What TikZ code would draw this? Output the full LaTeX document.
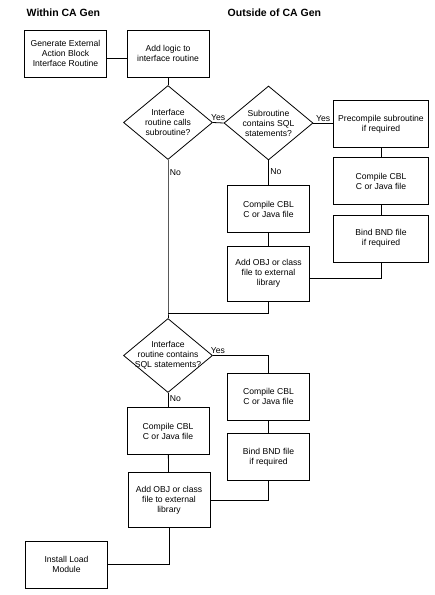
\documentclass[tikz,border=0pt]{standalone}
\usepackage{fontspec}
\setmainfont{Liberation Sans}
\usepackage{tikz}
\usetikzlibrary{shapes}
\usetikzlibrary{positioning}
\usepackage{xcolor}

\begin{document}
\begin{tikzpicture}[x=1pt, y=-1pt, line width=0.8pt,
		main/.style = {draw, rectangle, minimum width=82pt, minimum height=47pt, align=center, inner sep=1pt, font=\fontsize{8.6}{10}\selectfont},
		wide/.style = {main, minimum width=95pt},
		tall/.style = {main, minimum height=55pt},
		dec/.style = {draw, diamond, minimum width=89pt, minimum height=74pt, inner sep=0pt},
		txt/.style = {align=center, inner sep=0pt, font=\fontsize{8.6}{10}\selectfont},
		lbl/.style = {font=\fontsize{8.6}{10}\selectfont, inner sep=1.5pt},
		head/.style = {anchor=west, font=\fontsize{10.5}{12}\selectfont\bfseries}]
		\useasboundingbox (0,0) rectangle (435,595);
		\node[head] (w) at (23,12.5) {Within CA Gen};
		\node[head] (o) at (224,13) {Outside of CA Gen};
		\node[main] (1) at (65.5,53.5) {Generate External\\Action Block\\Interface Routine};
		\node[main] (2) at (168,53.5) {Add logic to\\interface routine};
		\node[dec, label={[txt]center:Interface\\routine calls\\subroutine?}] (3) at (168,122.5) {};
		\node[dec, label={[txt]center:Subroutine\\contains SQL\\statements?}] (4) at (268.5,123) {};
		\node[wide] (5) at (381,124) {Precompile subroutine\\if required};
		\node[wide] (6) at (381,181) {Compile CBL\\C or Java file};
		\node[wide] (7) at (381,238.5) {Bind BND file\\if required};
		\node[main] (8) at (268.5,209) {Compile CBL\\C or Java file};
		\node[tall] (9) at (268.5,273.5) {Add OBJ or class\\file to external\\library};
		\node[dec, label={[txt]center:Interface\\routine contains\\SQL statements?}] (10) at (168,355.5) {};
		\node[main] (11) at (268.5,396.5) {Compile CBL\\C or Java file};
		\node[main] (12) at (268.5,457) {Bind BND file\\if required};
		\node[main] (13) at (168,431) {Compile CBL\\C or Java file};
		\node[tall] (14) at (169,500) {Add OBJ or class\\file to external\\library};
		\node[main] (15) at (66.5,564.5) {Install Load\\Module};
		\coordinate (j) at (168,313);
		\draw[-] ([yshift=-4.5pt]1.east) -- ([yshift=-4.5pt]2.west);
		\draw[-] (2) -- (3);
		\draw[-] (3.east) -- node[lbl, above] {Yes} (4.west);
		\draw[-] (4.east) -- node[lbl, above] {Yes} (4.east -| 5.west);
		\draw[-] (5) -- (6);
		\draw[-] (6) -- (7);
		\draw[-] (4.south) -- node[lbl, right, pos=.45] {No} (8.north);
		\draw[-] (8) -- (9);
		\draw[-] ([yshift=-5pt]9.east) -| (7.south);
		\draw[-] (3.south) -- node[lbl, right, pos=.08] {No} (j) -- (10.north);
		\draw[-] (9.south) |- (j);
		\draw[-] (10.east) node[lbl, above right, xshift=-4pt] {Yes} -| (11.north);
		\draw[-] (11) -- (12);
		\draw[-] (10.south) -- node[lbl, right, pos=.4] {No} (13.north);
		\draw[-] (13) -- (14);
		\draw[-] (14.east) -| (12.south);
		\draw[-] (14.south) |- (15.east);
	\end{tikzpicture}
\end{document}
